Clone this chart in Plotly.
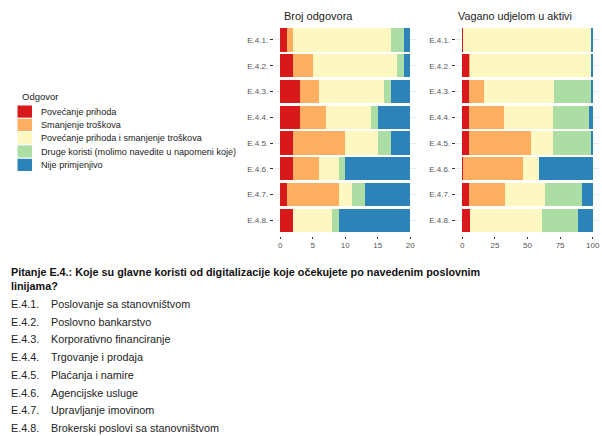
import plotly.graph_objects as go

# Business lines (rows of both panels)
lines = ["E.4.1.", "E.4.2.", "E.4.3.", "E.4.4.", "E.4.5.", "E.4.6.", "E.4.7.", "E.4.8."]

# Answer categories and their colours (Spectral palette)
answers = [
    "Povećanje prihoda",
    "Smanjenje troškova",
    "Povećanje prihoda i smanjenje troškova",
    "Druge koristi (molimo navedite u napomeni koje)",
    "Nije primjenjivo",
]
colors = ["#d7191c", "#fdae61", "#fdf7c2", "#abdda4", "#2b83ba"]

# Number of answers per business line
count_rev = [1, 2, 3, 3, 2, 2, 1, 2]
count_cost = [1, 3, 3, 4, 8, 4, 8, 0]
count_both = [15, 13, 10, 7, 5, 3, 2, 6]
count_other = [2, 1, 1, 1, 2, 1, 2, 1]
count_na = [1, 1, 3, 5, 3, 10, 7, 11]

# Share weighted by assets (%)
share_rev = [0.5, 5.4, 5.4, 5.4, 5.4, 0.5, 4.9, 5.6]
share_cost = [0.0, 0.8, 11.0, 26.3, 47.3, 45.8, 27.6, 0.0]
share_both = [98.3, 92.6, 54.2, 37.9, 17.1, 12.3, 30.9, 55.8]
share_other = [0.3, 0.3, 28.1, 27.9, 28.6, 0.0, 28.1, 27.6]
share_na = [0.9, 0.9, 1.3, 2.5, 1.6, 41.4, 8.5, 11.0]

# Descriptions of the business lines
descriptions = [
    "Poslovanje sa stanovništvom",
    "Poslovno bankarstvo",
    "Korporativno financiranje",
    "Trgovanje i prodaja",
    "Plaćanja i namire",
    "Agencijske usluge",
    "Upravljanje imovinom",
    "Brokerski poslovi sa stanovništvom",
]
question = ("Pitanje E.4.: Koje su glavne koristi od digitalizacije koje očekujete po navedenim poslovnim"
            "<br>linijama?")

W, H = 602, 436
FONT = "Liberation Sans, Arial, sans-serif"


def px(x):
    return x / W


def py(y):
    return 1 - y / H


counts = [count_rev, count_cost, count_both, count_other, count_na]
shares = [share_rev, share_cost, share_both, share_other, share_na]

fig = go.Figure()
for name, col, c, s in zip(answers, colors, counts, shares):
    fig.add_trace(go.Bar(y=lines, x=c, orientation="h", name=name, marker_color=col,
                         marker_line_width=0, width=0.9, showlegend=False,
                         xaxis="x", yaxis="y"))
    fig.add_trace(go.Bar(y=lines, x=s, orientation="h", name=name, marker_color=col,
                         marker_line_width=0, width=0.9, showlegend=False,
                         xaxis="x2", yaxis="y2"))

ydom = [py(235.8), py(24.5)]
xaxis_common = dict(showgrid=False, zeroline=False, ticks="outside", ticklen=2,
                    tickcolor="#333", tickfont=dict(size=8, color="#555", family=FONT),
                    showline=False)
yaxis_common = dict(type="category", categoryorder="array", categoryarray=lines,
                    range=[7.6, -0.6], showgrid=True, gridcolor="#ebebeb", gridwidth=1,
                    zeroline=False, ticks="outside", ticklen=3, tickcolor="#333",
                    tickfont=dict(size=8, color="#555", family=FONT), showline=False)

fig.update_layout(
    width=W, height=H,
    margin=dict(l=0, r=0, t=0, b=0),
    paper_bgcolor="white", plot_bgcolor="white",
    barmode="stack",
    font=dict(family=FONT, color="#1a1a1a"),
    xaxis=dict(domain=[px(273.8), px(416.8)], range=[-1, 21], tickvals=[0, 5, 10, 15, 20],
               anchor="y", **xaxis_common),
    xaxis2=dict(domain=[px(455.8), px(599.2)], range=[-5, 105], tickvals=[0, 25, 50, 75, 100],
                anchor="y2", **xaxis_common),
    yaxis=dict(domain=ydom, anchor="x", **yaxis_common),
    yaxis2=dict(domain=ydom, anchor="x2", **yaxis_common),
)

annotations = [
    dict(x=px(281.5), y=py(16.5), text="Broj odgovora", font=dict(size=11)),
    dict(x=px(456), y=py(16.5), text="Vagano udjelom u aktivi", font=dict(size=10.8)),
    dict(x=px(20), y=py(97), text="Odgovor", font=dict(size=9.5)),
]

# Legend drawn as keys and labels
shapes = []
key_top, key_h = 105.0, 13.3
for i, (name, col) in enumerate(zip(answers, colors)):
    y0 = key_top + i * key_h
    shapes.append(dict(type="rect", xref="paper", yref="paper",
                       x0=px(17), x1=px(32.5), y0=py(y0 + key_h), y1=py(y0),
                       fillcolor=col, line=dict(color="white", width=1)))
    annotations.append(dict(x=px(39), y=py(y0 + key_h / 2), text=name,
                            font=dict(size=9.1)))

# Question and line descriptions below the chart
annotations.append(dict(x=px(9), y=py(263.5), yanchor="top", text="<b>" + question + "</b>",
                        font=dict(size=10.8, color="#111"), align="left"))
for i, (code, desc) in enumerate(zip(lines, descriptions)):
    yc = 304 + i * 17.7
    annotations.append(dict(x=px(9), y=py(yc), text=code, font=dict(size=10.8, color="#222")))
    annotations.append(dict(x=px(49), y=py(yc), text=desc, font=dict(size=10.8, color="#222")))

for a in annotations:
    a.setdefault("xref", "paper")
    a.setdefault("yref", "paper")
    a.setdefault("xanchor", "left")
    a.setdefault("yanchor", "middle")
    a.setdefault("showarrow", False)

fig.update_layout(annotations=annotations, shapes=shapes)

fig.write_html("out.html")
